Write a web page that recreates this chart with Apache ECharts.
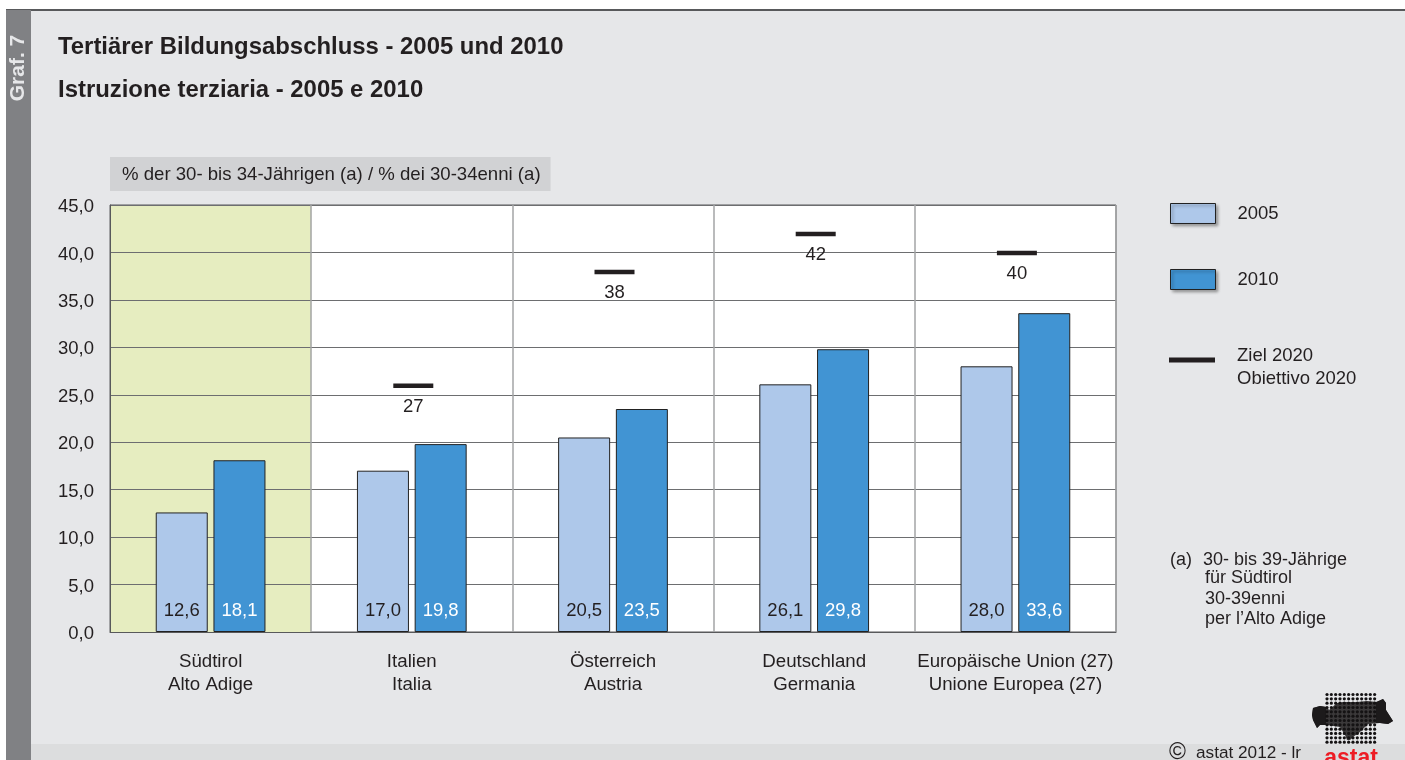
<!DOCTYPE html>
<html>
<head>
<meta charset="utf-8">
<title>Tertiärer Bildungsabschluss</title>
<style>html,body{margin:0;padding:0;background:#fff}#c{width:1405px;height:760px}</style>
<script src="https://cdn.jsdelivr.net/npm/echarts@6/dist/echarts.min.js"></script>
</head>
<body>
<div id="c"></div>
<script>
const categories = ['Südtirol\nAlto Adige', 'Italien\nItalia', 'Österreich\nAustria', 'Deutschland\nGermania', 'Europäische Union (27)\nUnione Europea (27)'];
const values2005 = [12.6, 17.0, 20.5, 26.1, 28.0];
const values2010 = [18.1, 19.8, 23.5, 29.8, 33.6];
const targetMarks = ['-', 26, 38, 42, 40];
const targetLabels = ['', '27', '38', '42', '40'];
const highlight = [45, '-', '-', '-', '-'];
const footnote = ['(a)', '30- bis 39-Jährige', 'für Südtirol', '30-39enni', 'per l’Alto Adige'];

const INK = '#231f20', FF = '"Liberation Sans", Arial, sans-serif', FS = 18.5;
const comma = v => Number(v).toFixed(1).replace('.', ',');
const chart = echarts.init(document.getElementById('c'), null, {renderer: 'canvas'});

const noteFont = '18px ' + FF;
const graphics = [
  {type: 'rect', z: -20, silent: true, shape: {x: 6, y: 10, width: 1399, height: 750}, style: {fill: '#e6e7e9'}},
  {type: 'rect', z: -19, silent: true, shape: {x: 6, y: 9, width: 1399, height: 2}, style: {fill: '#58595b'}},
  {type: 'rect', z: -19, silent: true, shape: {x: 31, y: 744, width: 1374, height: 16}, style: {fill: '#dcddde'}},
  {type: 'rect', z: -18, silent: true, shape: {x: 6, y: 10, width: 25, height: 750}, style: {fill: '#808184'}},
  {type: 'text', z: 5, silent: true, x: 18, y: 68, rotation: Math.PI / 2, style: {text: 'Graf. 7', fill: '#e6e7e9', font: 'bold 21px ' + FF, align: 'center', verticalAlign: 'middle'}},
  {type: 'text', silent: true, x: 1170, y: 560, style: {text: footnote[0], fill: INK, font: noteFont, verticalAlign: 'middle'}},
  {type: 'text', silent: true, x: 1203, y: 560, style: {text: footnote[1], fill: INK, font: noteFont, verticalAlign: 'middle'}},
  {type: 'text', silent: true, x: 1205, y: 578, style: {text: footnote[2], fill: INK, font: noteFont, verticalAlign: 'middle'}},
  {type: 'text', silent: true, x: 1205, y: 599, style: {text: footnote[3], fill: INK, font: noteFont, verticalAlign: 'middle'}},
  {type: 'text', silent: true, x: 1205, y: 619, style: {text: footnote[4], fill: INK, font: noteFont, verticalAlign: 'middle'}},
  {type: 'text', silent: true, x: 1169, y: 753, style: {text: '©', fill: INK, font: '23px ' + FF, verticalAlign: 'middle'}},
  {type: 'text', silent: true, x: 1196, y: 753, style: {text: 'astat 2012 - lr', fill: INK, font: '17.2px ' + FF, verticalAlign: 'middle'}},
  {type: 'text', silent: true, x: 1351, y: 759, style: {text: 'astat', fill: '#ed1c24', font: 'bold 23px ' + FF, align: 'center', verticalAlign: 'middle'}},
  {type: 'polygon', silent: true, shape: {points: [[1313,708],[1320,706],[1327,707],[1329,710],[1337,703],[1343,702],[1357,702],[1367,701],[1377,702],[1383,699],[1386,703],[1386,710],[1393,721],[1388,724],[1380,723],[1368,724],[1360,732],[1353,737],[1350,740],[1347,740],[1345,735],[1340,727],[1327,725],[1320,725],[1317,728],[1313,720],[1312,715]]}, style: {fill: '#3b393a'}},
  {type: 'polygon', silent: true, shape: {points: [[1313,708],[1320,706],[1326,707],[1326,725],[1320,725],[1317,728],[1313,720],[1312,715]]}, style: {fill: '#1c1a1b'}},
  {type: 'polygon', silent: true, shape: {points: [[1376,702],[1383,699],[1386,703],[1386,710],[1393,721],[1388,724],[1380,723],[1376,723]]}, style: {fill: '#1c1a1b'}}
];
for (let i = 0; i < 12; i++) {
  for (let j = 0; j < 12; j++) {
    graphics.push({type: 'circle', silent: true, shape: {cx: 1327 + i * 4.33, cy: 694.5 + j * 4.33, r: 1.6}, style: {fill: '#141213'}});
  }
}

chart.setOption({
  animation: false,
  textStyle: {fontFamily: FF, color: INK},
  graphic: graphics,
  title: [
    {text: 'Tertiärer Bildungsabschluss - 2005 und 2010', left: 53, top: 30, textStyle: {fontFamily: FF, fontWeight: 'bold', fontSize: 23.9, color: INK}},
    {text: 'Istruzione terziaria - 2005 e 2010', left: 53, top: 73, textStyle: {fontFamily: FF, fontWeight: 'bold', fontSize: 23.9, color: INK}}
  ],
  legend: [
    {left: 1165, top: 198, itemWidth: 45, itemHeight: 20, itemGap: 0, selectedMode: false,
     textStyle: {fontSize: FS, color: INK, padding: [0, 0, 0, 17], fontFamily: FF},
     data: [{name: '2005', icon: 'rect', itemStyle: {color: '#aec8ea', borderColor: '#222', borderWidth: 1, shadowColor: 'rgba(0,0,0,.35)', shadowBlur: 3, shadowOffsetX: 2, shadowOffsetY: 2}}]},
    {left: 1165, top: 264, itemWidth: 45, itemHeight: 20, itemGap: 0, selectedMode: false,
     textStyle: {fontSize: FS, color: INK, padding: [0, 0, 0, 17], fontFamily: FF},
     data: [{name: '2010', icon: 'rect', itemStyle: {color: '#4194d3', borderColor: '#222', borderWidth: 1, shadowColor: 'rgba(0,0,0,.35)', shadowBlur: 3, shadowOffsetX: 2, shadowOffsetY: 2}}]},
    {left: 1164, top: 328, itemWidth: 46, itemHeight: 5, itemGap: 0, selectedMode: false,
     formatter: n => '{b| }\n' + n.split('\n').map(s => '{t|' + s + '}').join('\n'),
     textStyle: {fontSize: FS, color: INK, padding: [0, 0, 0, 17], fontFamily: FF,
       rich: {b: {fontSize: 8, lineHeight: 15}, t: {fontSize: FS, lineHeight: 23, color: INK, fontFamily: FF}}},
     data: [{name: 'Ziel 2020\nObiettivo 2020', icon: 'rect', itemStyle: {color: '#231f20', borderWidth: 0}}]}
  ],
  grid: {left: 110, top: 205, width: 1006, height: 427, z: -5, show: true, backgroundColor: '#fff', borderColor: '#58595b', borderWidth: 1},
  xAxis: [
    {type: 'category', data: categories, axisTick: {show: false},
     axisLine: {lineStyle: {color: '#58595b', width: 1}},
     splitLine: {show: true, lineStyle: {color: '#a3a4a6', width: 1.5}},
     axisLabel: {margin: 18, fontSize: 18.7, lineHeight: 23, color: INK, fontFamily: FF, interval: 0}},
    {type: 'category', data: categories, show: false}
  ],
  yAxis: [
    {type: 'value', min: 0, max: 45, interval: 5,
     name: '% der 30- bis 34-Jährigen (a) / % dei 30-34enni (a)', nameLocation: 'end', nameGap: 14,
     nameTextStyle: {align: 'left', fontSize: 18.6, color: INK, fontFamily: FF, backgroundColor: '#d1d2d4', padding: [8, 10, 7, 12]},
     axisLine: {show: true, lineStyle: {color: '#58595b', width: 1}}, axisTick: {show: false},
     splitLine: {show: true, lineStyle: {color: '#6d6e70', width: 1}},
     axisLabel: {margin: 16, fontSize: FS, color: INK, fontFamily: FF,
       formatter: v => '{b| }\n{a|' + comma(v) + '}',
       rich: {b: {fontSize: 4, lineHeight: 4}, a: {fontSize: FS, lineHeight: 20, color: INK, fontFamily: FF}}}},
    {type: 'value', min: 0, max: 45, show: false}
  ],
  series: [
    {type: 'bar', name: 'Südtirol-Hintergrund', xAxisIndex: 1, yAxisIndex: 1, barWidth: '100%', z: -1, silent: true, data: highlight, itemStyle: {color: '#e6edc0'}},
    {type: 'bar', name: '2005', data: values2005, barWidth: 52, barGap: '11%', z: 2,
     itemStyle: {color: '#aec8ea', borderColor: '#222', borderWidth: 1},
     label: {show: true, position: 'insideBottom', distance: 12, fontSize: FS, color: INK, fontFamily: FF, formatter: p => comma(p.value)}},
    {type: 'bar', name: '2010', data: values2010, barWidth: 52, z: 2,
     itemStyle: {color: '#4194d3', borderColor: '#222', borderWidth: 1},
     label: {show: true, position: 'insideBottom', distance: 12, fontSize: FS, color: '#fff', fontFamily: FF, formatter: p => comma(p.value)}},
    {type: 'scatter', name: 'Ziel 2020\nObiettivo 2020', data: targetMarks, symbol: 'rect', symbolSize: [40, 4.5], symbolOffset: [1.5, 0.5], z: 3,
     itemStyle: {color: '#231f20', opacity: 1},
     label: {show: true, position: 'bottom', distance: 9, fontSize: FS, color: INK, fontFamily: FF, formatter: p => targetLabels[p.dataIndex]}}
  ]
});
</script>
</body>
</html>
